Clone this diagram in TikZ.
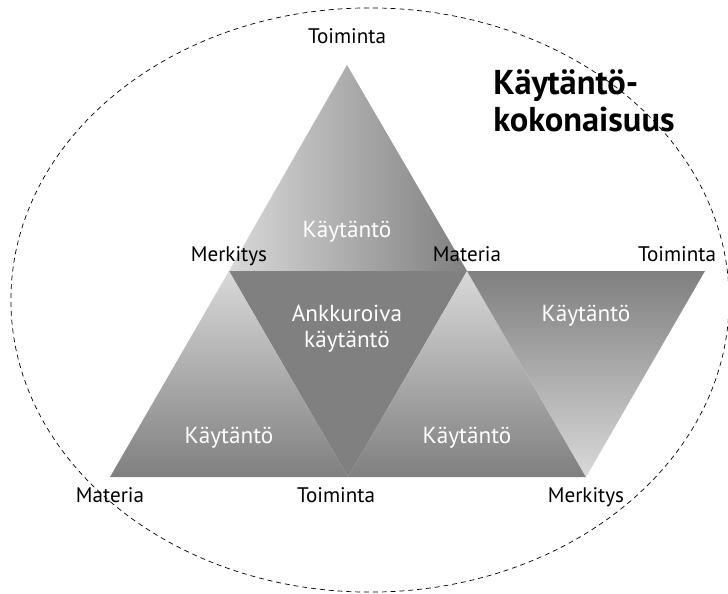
\documentclass[tikz,border=0pt]{standalone}
\usepackage{fontspec}
\setmainfont{PT Sans}
\usetikzlibrary{positioning}
\colorlet{paleshade}{black!15}
\colorlet{deepshade}{black!50}
\tikzset{
	cornerlabel/.style={font=\fontsize{15}{17}\selectfont, inner sep=0pt, anchor=base},
	practicelabel/.style={font=\fontsize{16.5}{18.5}\selectfont, text=white, align=center, inner sep=0pt},
	wholelabel/.style={font=\fontsize{24.5}{26.5}\selectfont\bfseries, align=left, inner sep=0pt, anchor=north west},
}

\begin{document}
\begin{tikzpicture}[x=0.025cm, y=-0.025cm]
					\useasboundingbox (0,0) rectangle (728,593);
					% CORNERS
					\coordinate (apex) at (347,65);
					\coordinate (midL) at (229,271);
					\coordinate (midC) at (467,271);
					\coordinate (midR) at (705,271);
					\coordinate (lowL) at (110,477);
					\coordinate (lowC) at (348,477);
					\coordinate (lowR) at (586,477);
					% TOP
					\shade[left color=paleshade, right color=deepshade] (apex) -- (midL) -- (midC) -- cycle;
					% ANCHORING
					\fill[deepshade] (midL) -- (midC) -- (lowC) -- cycle;
					% LOWER LEFT AND LOWER MIDDLE
					\shade[top color=paleshade, bottom color=deepshade] (midL) -- (lowL) -- (lowC) -- cycle;
					\shade[top color=paleshade, bottom color=deepshade] (midC) -- (lowC) -- (lowR) -- cycle;
					% RIGHT
					\shade[top color=deepshade, bottom color=paleshade] (midC) -- (midR) -- (lowR) -- cycle;
					% TEXTS
					\node[practicelabel, anchor=base] (pTop) at (347,237) {Käytäntö};
					\node[practicelabel] (pAnchor) at (347,329) {Ankkuroiva\\käytäntö};
					\node[practicelabel, anchor=base] (pLeft) at (229,443) {Käytäntö};
					\node[practicelabel, anchor=base] (pMid) at (467,443) {Käytäntö};
					\node[practicelabel, anchor=base] (pRight) at (586,321) {Käytäntö};
					\node[cornerlabel] (toimApex) at (347,43) {Toiminta};
					\node[cornerlabel] (merkMidL) at (229,261) {Merkitys};
					\node[cornerlabel] (mateMidC) at (467,261) {Materia};
					\node[cornerlabel] (toimMidR) at (677,261) {Toiminta};
					\node[cornerlabel] (mateLowL) at (110,502) {Materia};
					\node[cornerlabel] (toimLowC) at (336,502) {Toiminta};
					\node[cornerlabel] (merkLowR) at (586,502) {Merkitys};
					\node[wholelabel] (whole) at (493,69) {Käytäntö-\\kokonaisuus};
					% WHOLE
					\draw[line width=0.5pt, dash pattern=on 3.5pt off 2.8pt] (370,300) ellipse [x radius=8.975cm, y radius=7.3cm];
				\end{tikzpicture}
\end{document}
